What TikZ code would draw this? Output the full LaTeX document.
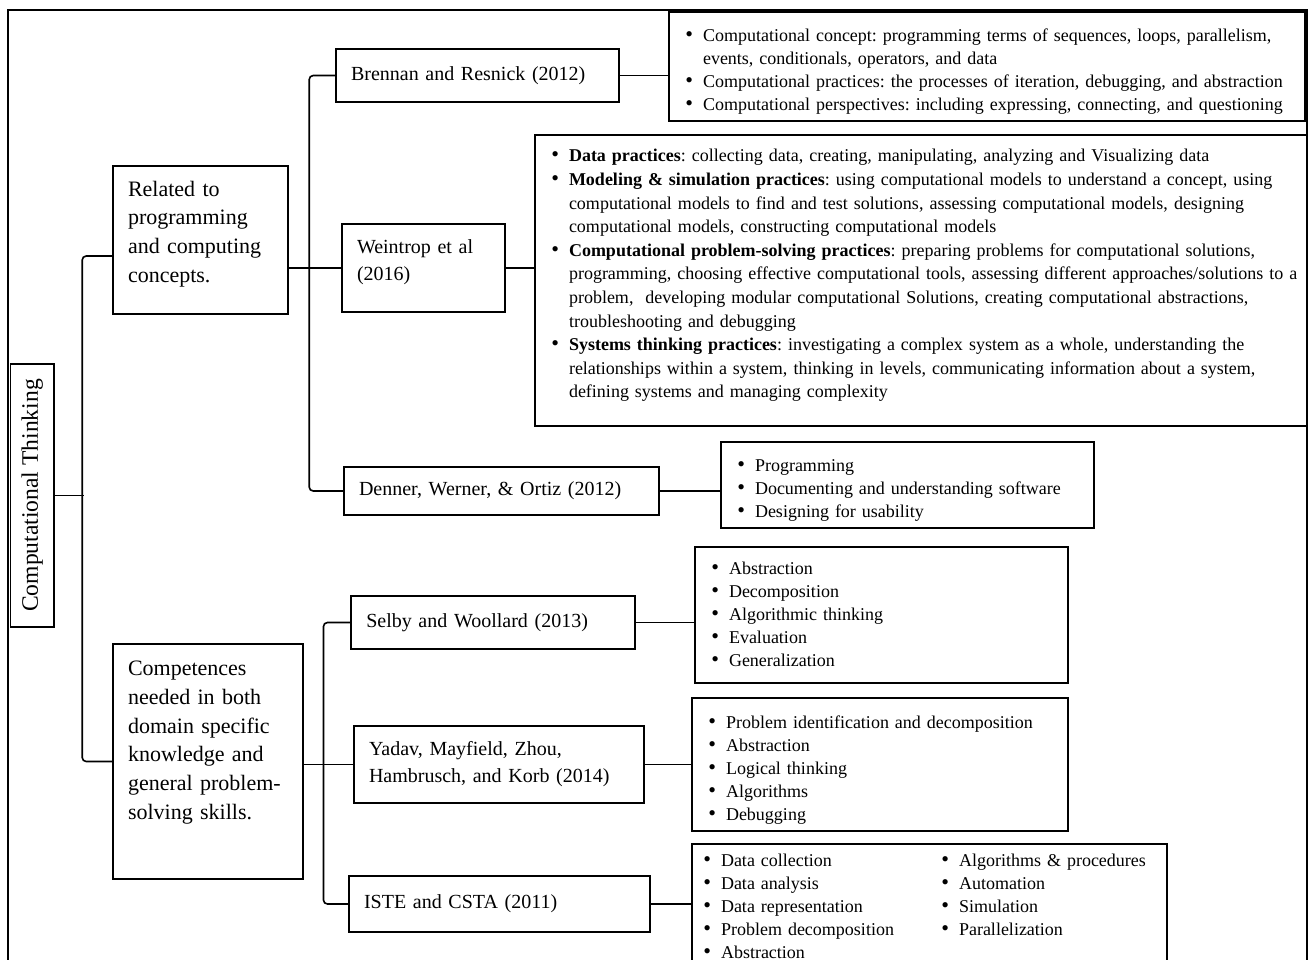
\documentclass[tikz,border=0pt]{standalone}
\usepackage{fontspec}
\setmainfont{Liberation Serif}
\usepackage{enumitem}
\usetikzlibrary{calc}
\setlist[itemize]{label={\fontsize{11}{11}\selectfont\textbullet}, leftmargin=13pt, labelsep=5pt, itemsep=0pt, topsep=0pt, parsep=0pt, partopsep=0pt}
\frenchspacing

\begin{document}
\begin{tikzpicture}[x=0.5pt, y=-0.5pt, line width=0.8pt,
  topic/.style={draw, align=left, inner xsep=7.5pt, font=\fontsize{11}{14.4}\selectfont},
  author/.style={draw, align=left, inner xsep=7.5pt, font=\fontsize{10}{13.5}\selectfont},
  bullets/.style={draw, align=left, inner xsep=4pt, font=\fontsize{9}{11.5}\selectfont},
  link/.style={rounded corners=2pt}]
\useasboundingbox (0,0) rectangle (1311,959);
\clip (0,0) rectangle (1311,959);
\draw (8,10) rectangle (1307,990);

% root and the two topics
\node[draw, rotate=90, minimum width=131.5pt, minimum height=21.75pt, font=\fontsize{11.8}{13}\selectfont] (root) at (32.25,495.5) {Computational Thinking};
\node[topic, text width=72.5pt, minimum height=74pt] (rel) at (200.5,240) {Related to\\ programming\\ and computing\\ concepts.\par\kern6pt};
\node[topic, text width=80pt, minimum height=117.5pt] (comp) at (208,761.5) {Competences\\ needed in both\\ domain specific\\ knowledge and\\ general problem-\\ solving skills.\par\kern19pt};

% authors
\node[author, text width=126.5pt, minimum height=26.5pt] (bren) at (477.5,75.5) {Brennan and Resnick (2012)};
\node[author, text width=66.5pt, minimum height=44pt] (wein) at (423.5,268) {Weintrop et al\\ (2016)\par\kern6pt};
\node[author, text width=142.5pt, minimum height=24pt] (denn) at (501.5,491) {Denner, Werner, \& Ortiz (2012)};
\node[author, text width=127pt, minimum height=26.5pt] (selb) at (493.25,622.5) {Selby and Woollard (2013)};
\node[author, text width=130pt, minimum height=38.5pt] (yad) at (499,764.5) {Yadav, Mayfield, Zhou,\\ Hambrusch, and Korb (2014)};
\node[author, text width=135.5pt, minimum height=28pt] (iste) at (499.5,904) {ISTE and CSTA (2011)};

% bullet boxes
\node[bullets, text width=310pt, minimum height=54.5pt] (bb1) at (987,66.5) {%
\begin{itemize}
\item Computational concept: programming terms of sequences, loops, parallelism,\\ events, conditionals, operators, and data
\item Computational practices: the processes of iteration, debugging, and abstraction
\item Computational perspectives: including expressing, connecting, and questioning
\end{itemize}};
\node[bullets, text width=378pt, minimum height=145.5pt, inner ysep=1pt, font=\fontsize{9}{11.8}\selectfont] (bb2) at (921,280.5) {%
\begin{itemize}
\item \textbf{Data practices}: collecting data, creating, manipulating, analyzing and Visualizing data
\item \textbf{Modeling \& simulation practices}: using computational models to understand a concept, using\\ computational models to find and test solutions, assessing computational models, designing\\ computational models, constructing computational models
\item \textbf{Computational problem-solving practices}: preparing problems for computational solutions,\\ programming, choosing effective computational tools, assessing different approaches/solutions to a\\ problem,\ \ developing modular computational Solutions, creating computational abstractions,\\ troubleshooting and debugging
\item \textbf{Systems thinking practices}: investigating a complex system as a whole, understanding the\\ relationships within a system, thinking in levels, communicating information about a system,\\ defining systems and managing complexity
\end{itemize}\par\kern10.5pt};
\node[bullets, text width=178.5pt, minimum height=43pt] (bb3) at (907.5,485) {%
\begin{itemize}
\item Programming
\item Documenting and understanding software
\item Designing for usability
\end{itemize}};
\node[bullets, text width=178.5pt, minimum height=68pt, inner ysep=1pt] (bb4) at (881.5,615) {%
\begin{itemize}
\item Abstraction
\item Decomposition
\item Algorithmic thinking
\item Evaluation
\item Generalization
\end{itemize}\par\kern6pt};
\node[bullets, text width=180pt, minimum height=66.5pt] (bb5) at (880,764.5) {%
\begin{itemize}
\item Problem identification and decomposition
\item Abstraction
\item Logical thinking
\item Algorithms
\item Debugging
\end{itemize}};
\node[bullets, text width=229.5pt, minimum height=62pt] (bb6) at (929.5,906) {%
\begin{minipage}[t]{116.5pt}
\begin{itemize}[leftmargin=10.5pt]
\item Data collection
\item Data analysis
\item Data representation
\item Problem decomposition
\item Abstraction
\end{itemize}
\end{minipage}%
\begin{minipage}[t]{113pt}
\begin{itemize}
\item Algorithms \& procedures
\item Automation
\item Simulation
\item Parallelization
\end{itemize}
\end{minipage}};

% connectors
\draw[link] (root.south) -- ++(29,0);
\draw[link] ($(rel.west)+(0,16)$) -- ++(-30,0) |- (comp.west);
\draw[link] (bren.west) -- ++(-26,0) |- (denn.west);
\draw (wein.west) -- (wein.west -| rel.east);
\draw (bren.east) -- (bren.east -| bb1.west);
\draw (wein.east) -- (wein.east -| bb2.west);
\draw (denn.east) -- (denn.east -| bb3.west);
\draw[link] (selb.west) -- ++(-27,0) |- (iste.west);
\draw (yad.west) -- (yad.west -| comp.east);
\draw (selb.east) -- (selb.east -| bb4.west);
\draw (yad.east) -- (yad.east -| bb5.west);
\draw (iste.east) -- (iste.east -| bb6.west);
\end{tikzpicture}
\end{document}
